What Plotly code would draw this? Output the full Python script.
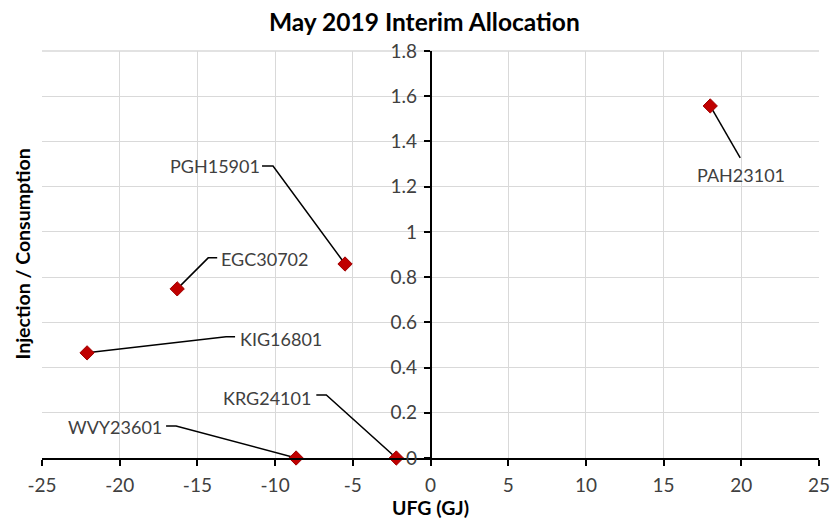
import plotly.graph_objects as go

# ---- data ----
names = ["PAH23101", "PGH15901", "EGC30702", "KIG16801", "WVY23601", "KRG24101"]
ufg = [18.0, -5.5, -16.3, -22.1, -8.65, -2.2]
ratio = [1.557, 0.858, 0.748, 0.465, 0.0, 0.0]

x_ticks = [-25, -20, -15, -10, -5, 0, 5, 10, 15, 20, 25]
y_ticks = [0, 0.2, 0.4, 0.6, 0.8, 1.0, 1.2, 1.4, 1.6, 1.8]

# label placement (pixel offsets from marker; y up)
label_dx = [31, -130, 88, 194, -181, -129]
label_dy = [-69, 98, 30, 14, 31, 60]
# leader paths (pixel offsets; y up)
leaders = [
    [(0, 0), (30, -52)],
    [(0, 0), (-72, 98), (-83, 98)],
    [(0, 0), (31, 31), (40, 31)],
    [(0, 0), (139, 16), (148, 16)],
    [(0, 0), (-120, 32), (-130, 32)],
    [(0, 0), (-70, 63), (-80, 63)],
]

FONT = "Lato"
TICK_COLOR = "#404040"

fig = go.Figure()
fig.add_trace(go.Scatter(
    x=ufg, y=ratio, mode="markers",
    marker=dict(symbol="diamond", size=11, color="#C00000",
                line=dict(color="#A00000", width=1)),
    cliponaxis=False, showlegend=False, hoverinfo="text", text=names,
))

shapes = []
annotations = []
for i, n in enumerate(names):
    pts = leaders[i]
    path = "M " + " L ".join(f"{px},{py}" for px, py in pts)
    shapes.append(dict(
        type="path", path=path, xref="x", yref="y",
        xsizemode="pixel", ysizemode="pixel",
        xanchor=ufg[i], yanchor=ratio[i],
        line=dict(color="black", width=1.5), layer="between",
    ))
    annotations.append(dict(
        x=ufg[i], y=ratio[i], xref="x", yref="y", text=n, showarrow=False,
        xshift=label_dx[i], yshift=label_dy[i],
        font=dict(family=FONT, size=18, color="#404040"),
    ))

annotations.append(dict(
    x=-20 / 777, y=0.5, xref="paper", yref="paper", xanchor="center",
    text="<b>Injection / Consumption</b>",
    textangle=-90, showarrow=False, font=dict(family=FONT, size=19.5, color="black"),
))

fig.update_layout(
    width=832, height=519,
    margin=dict(l=42, r=13, t=51, b=61),
    paper_bgcolor="white", plot_bgcolor="white",
    title=dict(text="<b>May 2019 Interim Allocation</b>", x=0.51, xanchor="center",
               y=0.956, yanchor="middle",
               font=dict(family=FONT, size=24.5, color="black")),
    font=dict(family=FONT, size=19, color=TICK_COLOR),
    xaxis=dict(
        range=[-25, 25], tickvals=x_ticks, ticktext=[str(v) for v in x_ticks],
        showgrid=True, gridcolor="#D9D9D9", gridwidth=1.3,
        showline=True, linecolor="black", linewidth=1.5,
        ticks="outside", ticklen=6, tickcolor="black", tickwidth=1.5,
        ticklabelstandoff=3,
        zeroline=False, fixedrange=True, automargin=False,
        title=dict(text="<b>UFG (GJ)</b>", font=dict(family=FONT, size=19.5, color="black"),
                   standoff=6),
        tickfont=dict(family=FONT, size=19, color=TICK_COLOR),
    ),
    yaxis=dict(
        range=[0, 1.8], tickvals=y_ticks,
        ticktext=[("%g" % v) for v in y_ticks],
        anchor="free", position=0.5,
        showgrid=True, gridcolor="#D9D9D9", gridwidth=1.3,
        showline=True, linecolor="black", linewidth=1.5,
        ticks="outside", ticklen=6, tickcolor="black", tickwidth=1.5,
        ticklabelstandoff=3,
        zeroline=False, fixedrange=True, automargin=False,
        tickfont=dict(family=FONT, size=19, color=TICK_COLOR),
    ),
    shapes=shapes, annotations=annotations,
)
fig.add_shape(type="line", xref="paper", yref="paper", x0=0, x1=1, y0=1, y1=1,
              line=dict(color="#D9D9D9", width=1.3), layer="below")

fig.write_html("out.html", config={"displayModeBar": False},
               post_script="document.body.style.margin='0';document.body.style.overflow='hidden';")
